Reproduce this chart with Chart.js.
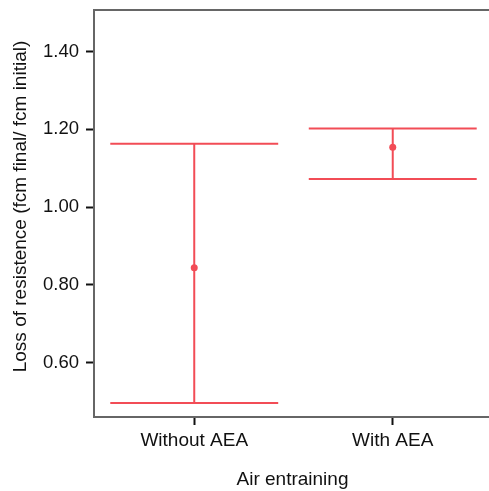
<!DOCTYPE html>
<html>
<head>
<meta charset="utf-8">
<script src="https://cdn.jsdelivr.net/npm/chart.js@4/dist/chart.umd.min.js"></script>
<style>
  html, body { margin: 0; padding: 0; background: #fff; overflow: hidden; }
  .wrap { width: 489px; height: 491px; overflow: hidden; }
</style>
</head>
<body>
<div class="wrap">
  <canvas id="errChart" width="520" height="491"></canvas>
</div>
<script>
// groups and their mean with the lower / upper ends of the interval
const groups = ['Without AEA', 'With AEA'];
const means = [0.844, 1.154];
const lower = [0.496, 1.072];
const upper = [1.163, 1.202];
const yTicks = [0.60, 0.80, 1.00, 1.20, 1.40];
const yTitle = 'Loss of resistence (fcm final/ fcm initial)';

const red = 'rgb(242, 76, 86)';
const capHalf = 0.423;
const font = 'Liberation Sans, Arial, Helvetica, sans-serif';

// one vertical segment and two caps per group, plus the mean dots
const datasets = [];
groups.forEach((g, i) => {
  datasets.push({ data: [{ x: i, y: lower[i] }, { x: i, y: upper[i] }] });
  datasets.push({ data: [{ x: i - capHalf, y: upper[i] }, { x: i + capHalf, y: upper[i] }] });
  datasets.push({ data: [{ x: i - capHalf, y: lower[i] }, { x: i + capHalf, y: lower[i] }] });
});
datasets.forEach(d => Object.assign(d, {
  showLine: true, borderColor: red, borderWidth: 2, pointRadius: 0, fill: false
}));
datasets.push({
  data: means.map((m, i) => ({ x: i, y: m })),
  showLine: false, pointRadius: 3.5, pointBackgroundColor: red, pointBorderWidth: 0
});

// top edge of the frame and the rotated y title (sits a little above centre)
const frameTop = {
  id: 'frameTop',
  afterDraw(chart) {
    const { ctx, chartArea } = chart;
    ctx.save();
    ctx.strokeStyle = '#666';
    ctx.lineWidth = 2;
    ctx.beginPath();
    ctx.moveTo(chartArea.left - 1, chartArea.top);
    ctx.lineTo(chartArea.right, chartArea.top);
    ctx.stroke();

    ctx.translate(25.5, (chartArea.top + chartArea.bottom) / 2 - 7);
    ctx.rotate(-Math.PI / 2);
    ctx.fillStyle = '#111';
    ctx.font = '19px ' + font;
    ctx.textAlign = 'center';
    ctx.textBaseline = 'alphabetic';
    ctx.fillText(yTitle, 0, 0);
    ctx.restore();
  }
};

new Chart(document.getElementById('errChart'), {
  type: 'scatter',
  data: { datasets },
  options: {
    responsive: false,
    animation: false,
    layout: { padding: { top: 10, right: 29, left: 0, bottom: 0 } },
    plugins: { legend: { display: false }, tooltip: { enabled: false } },
    scales: {
      x: {
        type: 'linear',
        min: -0.505,
        max: 1.495,
        afterBuildTicks: s => { s.ticks = groups.map((g, i) => ({ value: i })); },
        afterFit: s => { s.height = 74; s.paddingLeft = 0; s.paddingRight = 0; },
        ticks: {
          callback: v => groups[v],
          color: '#111',
          padding: 4,
          font: { family: font, size: 19 }
        },
        grid: { drawOnChartArea: false, tickLength: 8, tickWidth: 2, tickColor: '#111' },
        border: { color: '#666', width: 2 },
        title: {
          display: true,
          text: 'Air entraining',
          color: '#111',
          padding: { top: 0, bottom: 0 },
          font: { family: font, size: 19 }
        }
      },
      y: {
        min: 0.460,
        max: 1.507,
        afterBuildTicks: s => { s.ticks = yTicks.map(v => ({ value: v })); },
        afterFit: s => { s.width = 94; s.paddingTop = 0; s.paddingBottom = 0; },
        ticks: {
          callback: v => v.toFixed(2),
          color: '#111',
          padding: 7,
          font: { family: font, size: 18.5 }
        },
        grid: { drawOnChartArea: false, tickLength: 8, tickWidth: 2, tickColor: '#111' },
        border: { color: '#666', width: 2 }
      }
    }
  },
  plugins: [frameTop]
});
</script>
</body>
</html>
